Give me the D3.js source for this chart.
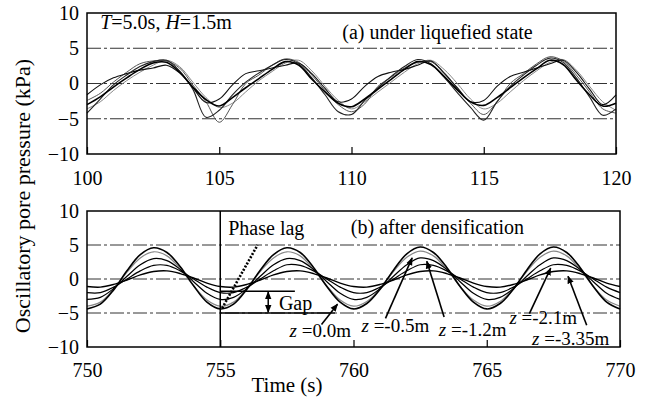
<!DOCTYPE html>
<html>
<head>
<meta charset="utf-8">
<script src="https://cdn.jsdelivr.net/npm/d3@7"></script>
<style>
  body { margin: 0; background: #fff; }
  svg text { font-family: "Liberation Serif", "Times New Roman", serif; fill: #000; }
</style>
</head>
<body>
<div id="chart"></div>
<script>
// ---- data ----
// sample times (s), every 0.5 s
let topTime = d3.range(100, 120.01, 0.5);
let botTime = d3.range(750, 770.01, 0.5);

// (a) under liquefied state, five gauges (kPa)
let liqA = [-3.0,-1.9,-0.5,0.8,2.0,2.9,3.0,1.6,-0.5,-2.3,
            -3.2,-2.0,-0.6,0.7,2.0,3.1,2.6,0.6,-1.2,-2.8,
            -3.3,-2.2,-0.8,0.6,2.0,3.1,2.7,1.0,-0.9,-2.6,
            -3.1,-2.0,-0.6,0.8,2.1,3.3,2.7,0.5,-1.6,-3.2,-2.8];
let liqB = [-4.2,-2.2,-0.2,1.2,2.4,3.1,3.3,1.8,-0.8,-4.8,
            -3.8,-1.6,0.2,1.5,2.6,3.4,2.8,0.8,-1.6,-4.0,
            -4.4,-2.4,-0.6,1.0,2.4,3.4,2.8,0.9,-1.3,-3.4,
            -5.2,-2.6,-0.4,1.2,2.6,3.6,3.0,0.8,-1.9,-4.5,-3.6];
let liqC = [-2.4,-1.4,0.2,1.6,2.8,3.2,3.2,2.2,-0.2,-2.6,
            -5.5,-3.0,0.0,1.2,2.6,3.5,3.0,1.2,-1.0,-3.0,
            -4.0,-2.9,-0.4,0.9,2.2,3.0,3.1,1.4,-0.7,-2.8,
            -4.4,-2.6,0.0,1.4,2.8,3.8,3.2,1.2,-1.2,-3.6,-4.2];
let liqD = [-1.6,-0.2,0.8,1.4,1.9,2.2,2.6,1.5,-0.6,-2.7,
            -2.2,-0.2,1.4,1.8,2.2,2.6,2.9,1.4,-0.7,-2.6,
            -2.2,-0.4,1.0,1.6,2.0,2.6,3.2,1.5,-0.6,-2.6,
            -2.4,-0.4,1.0,1.6,2.2,2.8,3.3,1.6,-0.8,-3.0,-1.6];
let liqE = [-3.6,-2.6,-1.0,0.4,1.6,2.6,3.3,2.4,0.2,-2.0,
            -3.4,-2.8,-1.2,0.4,1.7,2.9,3.3,1.8,-0.4,-2.4,
            -3.6,-2.6,-1.2,0.2,1.6,2.8,3.3,2.0,0.0,-2.2,
            -3.6,-2.8,-1.2,0.4,1.8,3.0,3.4,1.9,-0.4,-2.6,-3.8];

// (b) after densification, by depth z (kPa)
let dens00 = [-4.4,-3.7,-1.6,1.2,3.6,4.6,3.9,1.8,-1.0,-3.4,
              -4.4,-3.7,-1.5,1.3,3.6,4.6,3.9,1.7,-1.1,-3.4,
              -4.4,-3.6,-1.5,1.3,3.7,4.7,3.9,1.7,-1.1,-3.4,
              -4.4,-3.6,-1.5,1.3,3.7,4.7,3.9,1.7,-1.1,-3.4,-4.4];
let dens05 = [-4.0,-3.4,-1.5,1.0,3.1,4.0,3.4,1.5,-1.0,-3.1,
              -4.0,-3.4,-1.4,1.1,3.1,4.0,3.4,1.4,-1.0,-3.1,
              -4.0,-3.3,-1.4,1.1,3.2,4.1,3.4,1.4,-1.1,-3.1,
              -4.0,-3.3,-1.4,1.1,3.2,4.1,3.4,1.4,-1.1,-3.1,-4.0];
let dens12 = [-3.0,-2.7,-1.4,0.4,2.1,3.0,2.7,1.4,-0.4,-2.1,
              -3.0,-2.7,-1.4,0.4,2.1,3.0,2.7,1.4,-0.4,-2.1,
              -3.0,-2.7,-1.4,0.4,2.1,3.1,2.7,1.4,-0.4,-2.1,
              -3.0,-2.7,-1.4,0.4,2.1,3.1,2.7,1.4,-0.4,-2.1,-3.0];
let dens21 = [-2.0,-2.0,-1.2,0.0,1.2,2.0,2.0,1.2,0.0,-1.2,
              -2.0,-2.0,-1.2,0.0,1.2,2.1,2.0,1.2,0.0,-1.2,
              -2.0,-2.0,-1.2,0.0,1.2,2.1,2.0,1.2,0.0,-1.2,
              -2.0,-2.0,-1.2,0.0,1.2,2.1,2.0,1.2,0.0,-1.2,-2.0];
let dens335 = [-1.1,-1.2,-0.8,-0.15,0.6,1.1,1.2,0.8,0.15,-0.6,
               -1.1,-1.2,-0.8,-0.15,0.6,1.1,1.2,0.8,0.15,-0.6,
               -1.1,-1.2,-0.8,-0.15,0.6,1.1,1.2,0.8,0.15,-0.6,
               -1.1,-1.2,-0.8,-0.15,0.6,1.1,1.2,0.8,0.15,-0.6,-1.1];

let yTicks = [-10, -5, 0, 5, 10];
let gridVals = [-5, 0, 5];
let topTicks = [100, 105, 110, 115, 120];
let botTicks = [750, 755, 760, 765, 770];

// depth labels: text start (t, v), arrow tail (t, v), arrow tip (t, v)
let depthLabels = [
    {z: "0.0m",   tx: 757.6, ty: -8.5, from: [758.8, -6.7], to: [759.4, -3.7]},
    {z: "-0.5m",  tx: 760.3, ty: -7.8, from: [761.2, -5.8], to: [762.2, 3.1]},
    {z: "-1.2m",  tx: 763.2, ty: -8.4, from: [763.4, -5.6], to: [762.75, 2.6]},
    {z: "-2.1m",  tx: 765.85, ty: -6.6, from: [766.6, -5.1], to: [767.4, 1.6]},
    {z: "-3.35m", tx: 766.7, ty: -9.7, from: [768.75, -6.8], to: [768.05, 0.4]}
];

// ---- drawing ----
let svg = d3.select("#chart").append("svg")
    .attr("width", 651)
    .attr("height", 397);

svg.append("defs").append("marker")
    .attr("id", "arrow")
    .attr("viewBox", "0 0 10 8")
    .attr("refX", 9).attr("refY", 4)
    .attr("markerWidth", 8).attr("markerHeight", 7)
    .attr("markerUnits", "userSpaceOnUse")
    .attr("orient", "auto-start-reverse")
    .append("path")
    .attr("d", "M0,0 L10,4 L0,8 z")
    .attr("fill", "#000");

function drawPanel(p) {
    let x = d3.scaleLinear().domain(p.xDomain).range([p.left, p.right]);
    let y = d3.scaleLinear().domain([-10, 10]).range([p.bottom, p.top]);
    let g = svg.append("g");

    // dash-dot reference lines
    g.selectAll(".grid").data(gridVals).enter().append("line")
        .attr("x1", p.left).attr("x2", p.right)
        .attr("y1", d => y(d)).attr("y2", d => y(d))
        .attr("stroke", "#333").attr("stroke-width", 1)
        .attr("stroke-dasharray", "14,3,3,3");

    // x axis, ticks pointing inward
    let xAxis = d3.axisBottom(x).tickValues(p.ticks).tickSize(-7).tickPadding(p.pad);
    let ax = g.append("g")
        .attr("transform", "translate(0," + p.bottom + ")")
        .call(xAxis);
    ax.select(".domain").remove();
    ax.selectAll("text").attr("font-size", 20).attr("font-family", "Liberation Serif");
    ax.selectAll("line").attr("stroke-width", 1.2);

    let yAxis = d3.axisLeft(y).tickValues(yTicks).tickSize(0).tickPadding(8);
    let ay = g.append("g")
        .attr("transform", "translate(" + p.left + ",0)")
        .call(yAxis);
    ay.select(".domain").remove();
    ay.selectAll("text").attr("font-size", 20).attr("font-family", "Liberation Serif");

    let line = d3.line()
        .x((d, i) => x(p.time[i]))
        .y(d => y(d))
        .curve(d3.curveCatmullRom.alpha(0.5));

    p.series.forEach(s => {
        g.append("path")
            .datum(s.values)
            .attr("d", line)
            .attr("fill", "none")
            .attr("stroke", s.color)
            .attr("stroke-width", s.width);
    });

    // frame
    g.append("rect")
        .attr("x", p.left).attr("y", p.top)
        .attr("width", p.right - p.left).attr("height", p.bottom - p.top)
        .attr("fill", "none").attr("stroke", "#000").attr("stroke-width", 1.5);

    return {x: x, y: y, g: g};
}

let panelA = drawPanel({
    xDomain: [100, 120], left: 87, right: 616, top: 13, bottom: 154,
    ticks: topTicks, pad: 17, time: topTime,
    series: [
        {values: liqE, color: "#888", width: 1},
        {values: liqC, color: "#555", width: 1},
        {values: liqD, color: "#111", width: 1.1},
        {values: liqB, color: "#222", width: 1.1},
        {values: liqA, color: "#000", width: 1.6}
    ]
});

panelA.g.append("text")
    .attr("x", panelA.x(100.5)).attr("y", panelA.y(7.8))
    .attr("font-size", 20)
    .html('<tspan font-style="italic">T</tspan>=5.0s, <tspan font-style="italic">H</tspan>=1.5m');
panelA.g.append("text")
    .attr("x", panelA.x(109.65)).attr("y", panelA.y(6.3))
    .attr("font-size", 20)
    .text("(a) under liquefied state");

let panelB = drawPanel({
    xDomain: [750, 770], left: 87, right: 620, top: 211, bottom: 347,
    ticks: botTicks, pad: 16, time: botTime,
    series: [
        {values: dens05, color: "#888", width: 1.2},
        {values: dens335, color: "#000", width: 1.4},
        {values: dens21, color: "#000", width: 1.2},
        {values: dens12, color: "#000", width: 1.2},
        {values: dens00, color: "#000", width: 1.6}
    ]
});

let bx = panelB.x, by = panelB.y;

// vertical reference at 755 s
panelB.g.append("line")
    .attr("x1", bx(755)).attr("x2", bx(755))
    .attr("y1", by(10)).attr("y2", by(-10))
    .attr("stroke", "#000").attr("stroke-width", 1.5);

// phase lag dotted line
panelB.g.append("line")
    .attr("x1", bx(755.07)).attr("y1", by(-4.3))
    .attr("x2", bx(756.4)).attr("y2", by(5.0))
    .attr("stroke", "#000").attr("stroke-width", 2.6)
    .attr("stroke-dasharray", "2,1.6");

panelB.g.append("text")
    .attr("x", bx(755.3)).attr("y", by(6.4))
    .attr("font-size", 20)
    .text("Phase lag");

// gap
panelB.g.append("line")
    .attr("x1", bx(755)).attr("x2", bx(757.8))
    .attr("y1", by(-1.8)).attr("y2", by(-1.8))
    .attr("stroke", "#000").attr("stroke-width", 1.5);
panelB.g.append("line")
    .attr("x1", bx(755)).attr("x2", bx(759.3))
    .attr("y1", by(-5.0)).attr("y2", by(-5.0))
    .attr("stroke", "#000").attr("stroke-width", 1.5);
panelB.g.append("line")
    .attr("x1", bx(756.8)).attr("x2", bx(756.8))
    .attr("y1", by(-1.9)).attr("y2", by(-4.9))
    .attr("stroke", "#000").attr("stroke-width", 1.5)
    .attr("marker-start", "url(#arrow)")
    .attr("marker-end", "url(#arrow)");
panelB.g.append("text")
    .attr("x", bx(757.2)).attr("y", by(-4.5))
    .attr("font-size", 20)
    .text("Gap");

panelB.g.append("text")
    .attr("x", bx(759.9)).attr("y", by(6.6))
    .attr("font-size", 20)
    .text("(b) after densification");

// depth labels with arrows
depthLabels.forEach(d => {
    panelB.g.append("line")
        .attr("x1", bx(d.from[0])).attr("y1", by(d.from[1]))
        .attr("x2", bx(d.to[0])).attr("y2", by(d.to[1]))
        .attr("stroke", "#000").attr("stroke-width", 1.6)
        .attr("marker-end", "url(#arrow)");
    panelB.g.append("text")
        .attr("x", bx(d.tx)).attr("y", by(d.ty))
        .attr("font-size", 19)
        .html('<tspan font-style="italic">z</tspan> =' + d.z);
});

// axis titles
svg.append("text")
    .attr("transform", "translate(30,196) rotate(-90)")
    .attr("text-anchor", "middle")
    .attr("font-size", 22)
    .text("Oscillatory pore pressure (kPa)");

svg.append("text")
    .attr("x", 287).attr("y", 392)
    .attr("text-anchor", "middle")
    .attr("font-size", 21)
    .text("Time (s)");
</script>
</body>
</html>
